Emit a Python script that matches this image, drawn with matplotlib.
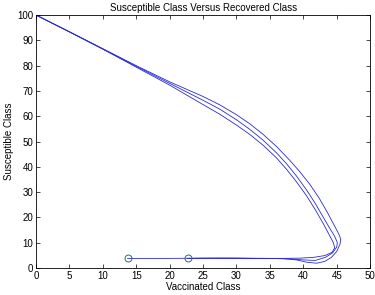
import matplotlib
matplotlib.use("Agg")
import matplotlib.pyplot as plt

plt.rcParams['font.family'] = ['Liberation Sans', 'DejaVu Sans']

# three trajectories (vaccinated, susceptible)
outer_x = [0, 5, 10, 15, 20, 25, 27.5, 30, 32, 34, 36, 38, 39.5, 41, 42.4, 43.6, 44.6, 45.3, 45.6, 45.5, 45.0, 44.2, 43.2, 42.0, 40.5, 39.0, 37.0, 33, 28, 22.7]
outer_y = [100, 93.4, 86.7, 80.0, 73.6, 67.8, 64.5, 60.6, 57.0, 52.8, 48.0, 42.5, 38.0, 33.0, 27.5, 22.0, 17.0, 13.5, 11.5, 9.5, 6.5, 4.2, 2.6, 1.9, 2.3, 3.2, 3.7, 3.8, 3.9, 3.8]
middle_x = [0, 5, 10, 15, 20, 25, 27.5, 30, 32, 34, 36, 37.5, 39, 40.5, 41.8, 43, 44, 44.7, 45.1, 45.0, 44.4, 43.3, 41.8, 40.0, 38.0, 35, 30, 22.7]
middle_y = [100, 93.4, 86.6, 79.7, 73.0, 66.3, 62.8, 58.6, 54.8, 50.5, 45.5, 41.2, 36.3, 30.8, 25.5, 20.0, 15.5, 12.5, 10.0, 8.3, 6.0, 4.2, 3.0, 3.2, 3.6, 3.8, 3.9, 3.8]
inner_x = [0, 5, 10, 15, 20, 25, 27.5, 30, 32, 34, 36, 37.5, 39, 40.5, 41.8, 43, 43.9, 44.5, 44.7, 44.3, 43.2, 41.5, 39.5, 37, 32, 25, 20, 13.7]
inner_y = [100, 93.3, 86.5, 79.4, 72.3, 64.6, 60.8, 56.5, 52.8, 48.5, 43.5, 39.0, 34.0, 28.5, 23.0, 17.5, 13.0, 10.0, 8.0, 6.2, 4.9, 4.2, 3.9, 3.8, 3.8, 3.9, 3.8, 3.8]

end_x = [13.7, 22.7]
end_y = [3.8, 3.8]

fig = plt.figure(figsize=(3.75, 2.95), dpi=100)
ax = fig.add_axes([0.096, 0.0915, 0.891, 0.8575])

for xs, ys in [(outer_x, outer_y), (middle_x, middle_y), (inner_x, inner_y)]:
    ax.plot(xs, ys, color='#2a2ad0', linewidth=0.6)
ax.plot(end_x, end_y, 'o', markersize=5, markerfacecolor='none',
        markeredgecolor='#1a7a5a', markeredgewidth=0.7)

ax.set_xlim(0, 50)
ax.set_ylim(0, 100)
ax.set_xticks(range(0, 51, 5))
ax.set_yticks(range(0, 101, 10))
ax.tick_params(direction='in', length=3, width=0.5, labelsize=7,
               top=True, right=True, pad=2)
for s in ax.spines.values():
    s.set_linewidth(0.6)

ax.set_title('Susceptible Class Versus Recovered Class', fontsize=7, pad=3)
ax.set_xlabel('Vaccinated Class', fontsize=7, labelpad=1)
ax.set_ylabel('Susceptible Class', fontsize=7, labelpad=2)

fig.savefig('out.png', dpi=100)
